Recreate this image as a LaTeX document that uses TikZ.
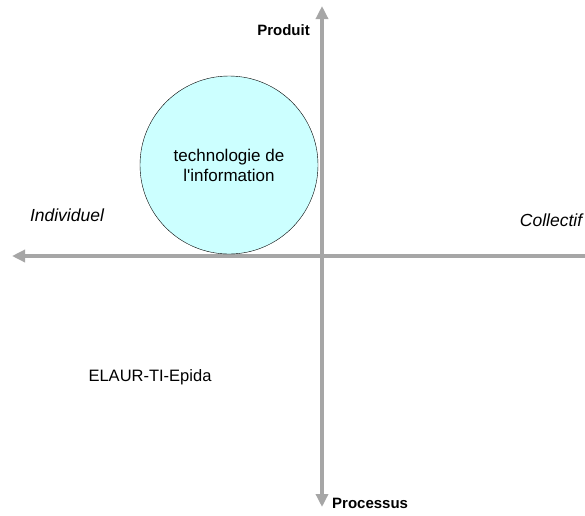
\documentclass[tikz,border=0pt]{standalone}
\usepackage{fontspec}
\setmainfont{Liberation Sans}
\usetikzlibrary{arrows.meta, positioning}
\definecolor{axisgray}{HTML}{A6A6A6}
\definecolor{lightcyan}{HTML}{CCFFFF}
\tikzset{
    quadrant/.style={x=1pt, y=-1pt, >={Triangle[length=13pt, width=12pt]}},
    axis/.style={axisgray, line width=4pt},
    bubble/.style={draw, circle, fill=lightcyan, minimum size=178pt, inner sep=0pt, align=center, font=\fontsize{17}{20}\selectfont},
    pole/.style={font=\fontsize{15}{18}\selectfont\bfseries, inner sep=1pt},
    side/.style={font=\fontsize{17.5}{20}\selectfont\itshape, inner sep=1pt},
    plain/.style={font=\fontsize{16.5}{20}\selectfont, inner sep=1pt},
}
\begin{document}
\begin{tikzpicture}[quadrant]
        \useasboundingbox (0,0) rectangle (585,515);
        \coordinate (west)  at (12,256);
        \coordinate (east)  at (585,256);
        \coordinate (north) at (322,6);
        \coordinate (south) at (322,507);

        % axes
        \draw[axis, <-] (west) -- (east);
        \draw[axis, <->] (north) -- (south);

        \node[bubble] (ti) at (229,165) {technologie de\\l\textquotesingle information};

        \node[pole, anchor=east]  (produit)   at (311,30)  {Produit};
        \node[pole, anchor=west]  (processus) at (331,503) {Processus};
        \node[side]               (indiv)     at (67,215)  {Individuel};
        \node[side]               (collectif) at (551,220) {Collectif};
        \node[plain]              (source)    at (150,377) {ELAUR-TI-Epida};
    \end{tikzpicture}
\end{document}
